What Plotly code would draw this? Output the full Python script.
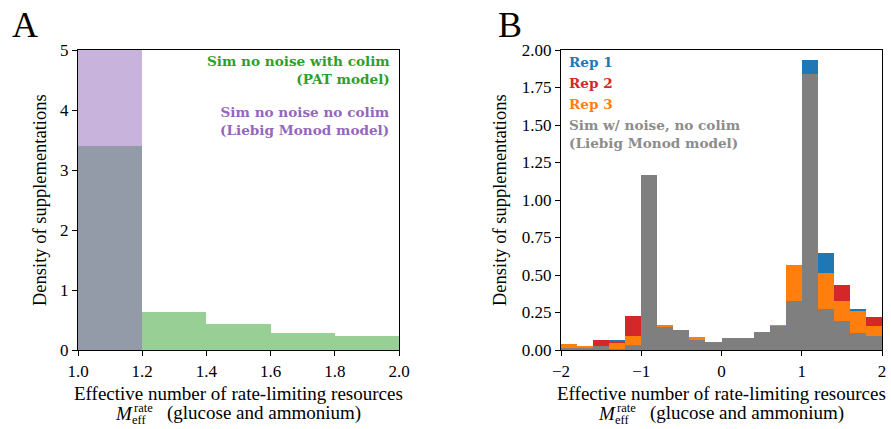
import numpy as np
import plotly.graph_objects as go

# ---- Panel A: simulations without noise (bins of width 0.2 on [1, 2]) ----
a_edges = [1.0, 1.2, 1.4, 1.6, 1.8]
a_liebig = [5.0, 0.0, 0.0, 0.0, 0.0]          # Liebig Monod model
a_pat = [3.40, 0.63, 0.43, 0.29, 0.23]        # PAT model

# ---- Panel B: replicates and noisy simulation (bins of width 0.2 on [-2, 2]) ----
b_edges = np.round(np.arange(-2.0, 2.0, 0.2), 2)
rep1 = [0.035, 0.028, 0.050, 0.067, 0.150, 1.000, 0.140, 0.110, 0.060, 0.040,
        0.070, 0.070, 0.110, 0.150, 0.570, 1.935, 0.644, 0.400, 0.273, 0.200]
rep2 = [0.030, 0.025, 0.067, 0.056, 0.224, 0.470, 0.150, 0.120, 0.065, 0.040,
        0.070, 0.070, 0.110, 0.150, 0.500, 1.610, 0.450, 0.434, 0.240, 0.217]
rep3 = [0.040, 0.030, 0.020, 0.045, 0.094, 0.950, 0.168, 0.120, 0.085, 0.045,
        0.070, 0.075, 0.110, 0.168, 0.564, 1.550, 0.515, 0.324, 0.257, 0.163]
sim_noise = [0.010, 0.015, 0.027, 0.005, 0.036, 1.170, 0.152, 0.132, 0.069, 0.051,
             0.080, 0.080, 0.121, 0.163, 0.329, 1.837, 0.273, 0.195, 0.116, 0.094]

BIN_W = 0.2
PURPLE = "#c8b3dc"
GREEN = "#97cf95"
OVERLAP = "#939aa8"
C_REP1, C_REP2, C_REP3, C_SIM = "#1f77b4", "#d62728", "#ff7f0e", "#7f7f7f"

SERIF = "Liberation Serif, Times New Roman, DejaVu Serif, serif"
BOLD_SERIF = "DejaVu Serif, Liberation Serif, serif"

W, H = 891, 429
A_X = (78, 399)
B_X = (561, 882)
Y_PX = (50, 350)
B_SHIFT = B_X[0] - A_X[0]


def px(x):
    return x / W


def py(y):
    return 1 - y / H


fig = go.Figure()

# Panel A bars
fig.add_trace(go.Bar(x=a_edges, y=a_liebig, width=BIN_W, offset=0,
                     marker=dict(color=PURPLE, line=dict(width=0)),
                     xaxis="x", yaxis="y", showlegend=False))
pat_colors = [OVERLAP if l > 0 else GREEN for l in a_liebig]
fig.add_trace(go.Bar(x=a_edges, y=a_pat, width=BIN_W, offset=0,
                     marker=dict(color=pat_colors, line=dict(width=0)),
                     xaxis="x", yaxis="y", showlegend=False))

# Panel B bars, drawn back to front
for vals, col in [(rep1, C_REP1), (rep2, C_REP2), (rep3, C_REP3), (sim_noise, C_SIM)]:
    fig.add_trace(go.Bar(x=b_edges, y=vals, width=BIN_W, offset=0,
                         marker=dict(color=col, line=dict(width=0)),
                         xaxis="x2", yaxis="y2", showlegend=False))

axis_style = dict(showline=True, linecolor="black", linewidth=1.3, mirror=True,
                  ticks="outside", ticklen=5, tickwidth=1.2, tickcolor="black",
                  showgrid=False, zeroline=False, automargin=False,
                  tickfont=dict(family=SERIF, size=17, color="black"))

ydom = [py(Y_PX[1]), py(Y_PX[0])]

fig.update_layout(
    template="none",
    width=W, height=H,
    margin=dict(l=0, r=0, t=0, b=0),
    plot_bgcolor="white", paper_bgcolor="white",
    barmode="overlay", bargap=0,
    font=dict(family=SERIF, size=17, color="black"),
    xaxis=dict(domain=[px(A_X[0]), px(A_X[1])], range=[1.0, 2.0],
               tickvals=[1.0, 1.2, 1.4, 1.6, 1.8, 2.0], tickformat=".1f",
               anchor="y", **axis_style),
    yaxis=dict(domain=ydom, range=[0, 5], tickvals=[0, 1, 2, 3, 4, 5],
               anchor="x", **axis_style),
    xaxis2=dict(domain=[px(B_X[0]), px(B_X[1])], range=[-2, 2],
                tickvals=[-2, -1, 0, 1, 2],
                anchor="y2", **axis_style),
    yaxis2=dict(domain=ydom, range=[0, 2],
                tickvals=[0, 0.25, 0.5, 0.75, 1.0, 1.25, 1.5, 1.75, 2.0], tickformat=".2f",
                anchor="x2", **axis_style),
)

ann = []


def text(t, x, y, size=17, color="black", family=SERIF, xa="center", ya="middle",
         angle=0, align="center"):
    ann.append(dict(text=t, x=px(x), y=py(y), xref="paper", yref="paper",
                    xanchor=xa, yanchor=ya, align=align, textangle=angle,
                    showarrow=False, font=dict(family=family, size=size, color=color)))


# panel letters
text("A", 25, 25, size=36)
text("B", 510, 25, size=36)

# axis titles for both panels
for shift, ytitle_x in [(0, 40), (B_SHIFT, 500)]:
    cx = (A_X[0] + A_X[1]) / 2 + shift
    text("Effective number of rate-limiting resources", cx, 393, size=19)
    # M with stacked superscript "rate" and subscript "eff"
    text("<i>M</i>", 113 + shift, 413, size=19, xa="left")
    text("rate", 132 + shift, 408, size=12.5, xa="left")
    text("eff", 130 + shift, 420, size=12.5, xa="left")
    text("(glucose and ammonium)", 165 + shift, 413, size=19, xa="left")
    text("Density of supplementations", ytitle_x, (Y_PX[0] + Y_PX[1]) / 2, size=18.5, angle=-90)

# panel A labels (right aligned)
text("<b>Sim no noise with colim<br>(PAT model)</b>", 392, 70, size=13.6,
     color="#2ca02c", family=BOLD_SERIF, xa="right", align="right")
text("<b>Sim no noise no colim<br>(Liebig Monod model)</b>", 392, 121, size=13.6,
     color="#9467bd", family=BOLD_SERIF, xa="right", align="right")

# panel B labels (left aligned)
for t, col, yy in [("Rep 1", C_REP1, 62), ("Rep 2", C_REP2, 83), ("Rep 3", C_REP3, 104)]:
    text(f"<b>{t}</b>", 567, yy, size=13.6, color=col, family=BOLD_SERIF, xa="left")
text("<b>Sim w/ noise, no colim<br>(Liebig Monod model)</b>", 567, 134, size=13.6,
     color="#8c8c8c", family=BOLD_SERIF, xa="left", align="left")

fig.update_layout(annotations=ann)

fig.write_html("out.html")
